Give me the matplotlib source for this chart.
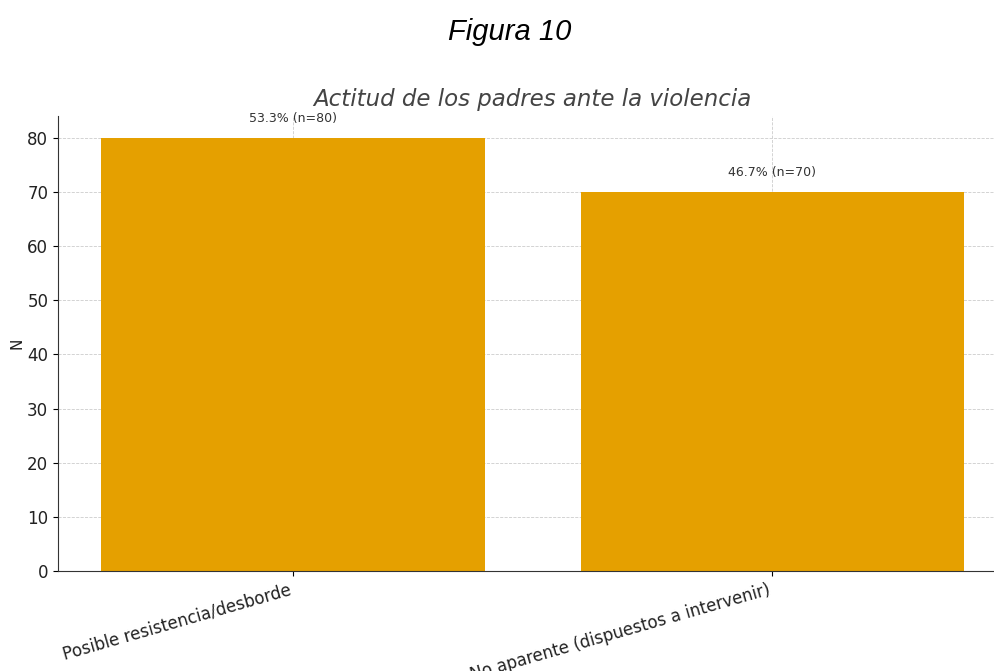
import matplotlib.pyplot as plt

# data
categories = ['Posible resistencia/desborde', 'No aparente (dispuestos a intervenir)']
counts = [80, 70]
percents = [53.3, 46.7]

fig = plt.figure(figsize=(9.95, 6.71), dpi=100)
ax = fig.add_axes([0.0583, 0.149, 0.954, 0.678])

x = range(len(categories))
ax.bar(x, counts, width=0.8, color='#E5A000', zorder=2)

for xi, c, p in zip(x, counts, percents):
    ax.annotate(f'{p}% (n={c})', (xi, c), xytext=(0, 14), textcoords='offset points',
                ha='center', va='center', fontsize=9, color='#333333', zorder=3)

ax.set_xticks(list(x))
ax.set_xticklabels(categories, rotation=16, ha='right', fontsize=12, color='#222222')
ax.tick_params(axis='y', labelsize=12, labelcolor='#222222')
ax.set_ylim(0, 84)
ax.set_xlim(-0.49, 1.49)
ax.set_ylabel('N', fontsize=11, color='#222222', labelpad=2)
ax.set_title('Actitud de los padres ante la violencia', fontsize=16.5, style='italic',
             color='#444444', pad=7)

ax.grid(True, linestyle='--', linewidth=0.6, color='#cccccc', zorder=0)
ax.set_axisbelow(True)
ax.spines['top'].set_visible(False)
ax.spines['right'].set_visible(False)
ax.spines['left'].set_color('#333333')
ax.spines['bottom'].set_color('#333333')

fig.text(0.512, 0.953, 'Figura 10', fontsize=21, style='italic',
         family='Liberation Sans', ha='center', va='center')

fig.savefig('out.png', dpi=100)
